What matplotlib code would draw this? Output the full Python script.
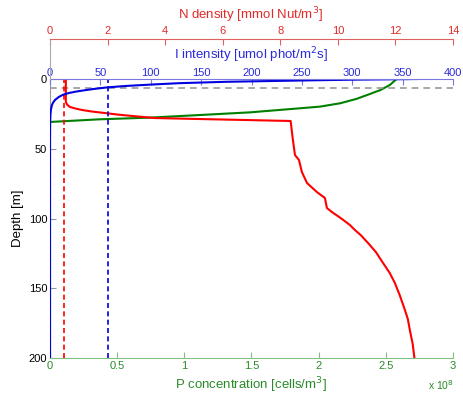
import matplotlib
matplotlib.use("Agg")
import matplotlib.pyplot as plt

plt.rcParams['font.family'] = ['Liberation Sans', 'DejaVu Sans']

# light intensity I [umol phot/m^2 s] vs depth [m]
depth_I = [0, 0.5, 1, 2, 3, 4, 5, 6, 7, 8, 9, 10, 11, 12, 13, 15, 17, 19, 22, 26, 32, 45, 200]
light_I = [365, 300, 255, 175, 128, 100, 75, 57, 45, 35, 26, 19, 14, 11, 8.5, 5, 3, 1.8, 0.9, 0.4, 0.1, 0, 0]

# nutrient N [mmol Nut/m^3] vs depth [m]
depth_N = [0, 16.5, 18.5, 20, 21, 22.2, 23.3, 24.4, 25.5, 26.5, 28, 30.1, 42.3, 54.5, 58.1, 66.7,
           74.6, 81, 85.3, 92.5, 95.3, 100, 104.7, 108.2, 112, 117.6, 124, 131.9, 139, 146.2,
           155, 165.6, 172, 179.9, 190, 200]
nutr_N = [0.55, 0.55, 0.6, 0.69, 0.85, 1.11, 1.45, 1.91, 2.35, 2.85, 3.65, 8.36, 8.43, 8.51, 8.65, 8.75,
          8.93, 9.27, 9.55, 9.62, 9.79, 10.12, 10.42, 10.59, 10.8, 11.05, 11.32, 11.57, 11.8, 11.98,
          12.15, 12.33, 12.43, 12.5, 12.6, 12.66]

# phytoplankton P [x1e8 cells/m^3] vs depth [m]
depth_P = [0, 4.3, 7.9, 11.5, 14.3, 17.4, 19.8, 21, 23.9, 25.8, 27.7, 28.9, 30.8, 200]
phyto_P = [2.58, 2.53, 2.46, 2.36, 2.28, 2.16, 2.01, 1.86, 1.49, 1.12, 0.74, 0.37, 0, 0]

mixed_depth = 6.2     # grey dashed line
half_sat_I = 58       # blue dashed line
half_sat_N = 0.5      # red dashed line

red_ax = '#e06060'
blue_ax = '#7878e0'
green_ax = '#80c080'
red_txt = '#e02a2a'
blue_txt = '#2a2ad8'
green_txt = '#2a8a2a'

fig = plt.figure(figsize=(4.63, 3.94), dpi=100)
L, W = 50 / 463, 403 / 463
ax = fig.add_axes([L, 36 / 394, W, 279 / 394])

# P axis (bottom) + depth axis
ax.plot(phyto_P, depth_P, color='#008000', lw=1.5)
ax.axhline(mixed_depth, color='#999999', ls=(0, (4, 3)), lw=1.2)
ax.set_xlim(0, 3)
ax.set_ylim(200, 0)
ax.set_xticks([0, 0.5, 1, 1.5, 2, 2.5, 3])
ax.set_xticklabels(['0', '0.5', '1', '1.5', '2', '2.5', '3'])
ax.set_yticks([0, 50, 100, 150, 200])
ax.tick_params(axis='x', direction='in', length=4, colors=green_ax, labelcolor=green_txt, labelsize=8, pad=2)
ax.tick_params(axis='y', direction='in', length=4, colors='#999999', labelcolor='black', labelsize=8, pad=2)
ax.spines['bottom'].set_color(green_ax)
ax.spines['left'].set_color('#999999')
ax.spines['top'].set_visible(False)
ax.spines['right'].set_visible(False)

# N (hidden twin, drawn in main area)
axN = ax.twiny()
axN.plot(nutr_N, depth_N, color='red', lw=1.5)
axN.axvline(half_sat_N, color='red', ls=(0, (3, 2)), lw=1.2)
axN.set_xlim(0, 14)
axN.axis('off')

# I axis (top of main box)
axI = ax.twiny()
axI.plot(light_I, depth_I, color='#0000e0', lw=1.5)
axI.axvline(half_sat_I, color='#0000e0', ls=(0, (3, 2)), lw=1.2)
axI.set_xlim(0, 400)
axI.set_xticks(range(0, 401, 50))
axI.tick_params(axis='x', direction='in', length=4, colors=blue_ax, labelcolor=blue_txt, labelsize=8, pad=1)
axI.spines['top'].set_color(blue_ax)
for s in ['bottom', 'left', 'right']:
    axI.spines[s].set_visible(False)

# N axis, separate strip above
axR = fig.add_axes([L, 315 / 394, W, 40 / 394])
axR.patch.set_visible(False)
axR.set_xlim(0, 14)
axR.set_xticks(range(0, 15, 2))
axR.set_yticks([])
axR.xaxis.tick_top()
axR.tick_params(axis='x', direction='in', length=4, colors=red_ax, labelcolor=red_txt, labelsize=8, pad=2)
axR.spines['top'].set_color(red_ax)
axR.spines['left'].set_color('#aaaaaa')
axR.spines['bottom'].set_visible(False)
axR.spines['right'].set_visible(False)

fig.text(251 / 463, 1 - 15 / 394, 'N density [mmol Nut/m$^3$]', color=red_txt, fontsize=9.5, ha='center', va='center')
fig.text(251 / 463, 1 - 55 / 394, 'I intensity [umol phot/m$^2$s]', color=blue_txt, fontsize=9.5, ha='center', va='center')
fig.text(251 / 463, 1 - 385 / 394, 'P concentration [cells/m$^3$]', color=green_txt, fontsize=9.5, ha='center', va='center')
fig.text(441 / 463, 1 - 385 / 394, 'x 10$^8$', color=green_txt, fontsize=7.5, ha='center', va='center')
fig.text(18 / 463, 1 - 218 / 394, 'Depth [m]', color='black', fontsize=9.5, ha='center', va='center', rotation=90)

fig.savefig('out.png', dpi=100)
